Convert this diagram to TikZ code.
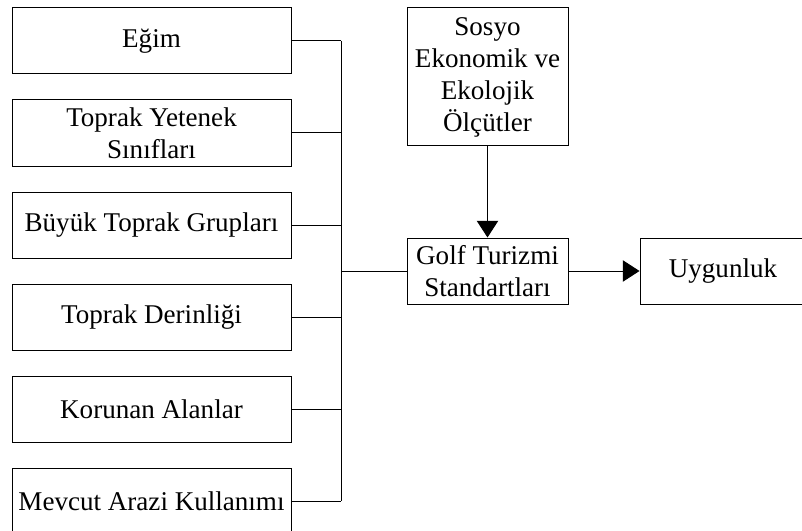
\documentclass[tikz,border=0pt]{standalone}
\usepackage{fontspec}
\setmainfont{Liberation Serif}
\usetikzlibrary{arrows.meta,positioning}
\tikzset{
  kutu/.style={draw, line width=0.75pt, minimum width=209.25pt, minimum height=49.5pt,
    align=center, inner sep=0pt, font=\fontsize{20.3}{24}\selectfont},
  hat/.style={line width=0.75pt},
  ok/.style={hat, -{Triangle[length=12.5pt,width=16pt]}}
}
\begin{document}
\begin{tikzpicture}[x=0.75pt,y=-0.75pt]
  \useasboundingbox (0,0) rectangle (802,531);
  \clip (0,0) rectangle (802,531);

  % left column of criteria
  \foreach \lbl [count=\i] in {Eğim,{Toprak Yetenek\\Sınıfları},Büyük Toprak Grupları,Toprak Derinliği,Korunan Alanlar,Mevcut Arazi Kullanımı}
    \node[kutu] (k\i) at (151.5,{41+92*(\i-1)}) {\lbl};

  \node[kutu, minimum width=120.75pt, minimum height=103.5pt] (olcut) at (487.5,77) {Sosyo\\Ekonomik ve\\Ekolojik\\Ölçütler};
  \node[kutu, minimum width=120.75pt] (golf) at (487.5,271) {Golf Turizmi\\Standartları};
  \node[kutu, minimum width=124.5pt] (uygun) at (723,271) {Uygunluk};

  % collecting line
  \coordinate (bara) at (341,271);
  \foreach \i in {1,...,6}
    \draw[hat] (k\i.east) -- (k\i.east -| bara);
  \draw[hat] (k1.east -| bara) -- (k6.east -| bara);
  \draw[hat] (bara) -- (golf.west);

  \draw[ok] (olcut) -- (golf);
  \draw[ok] (golf) -- (uygun);

\end{tikzpicture}
\end{document}
